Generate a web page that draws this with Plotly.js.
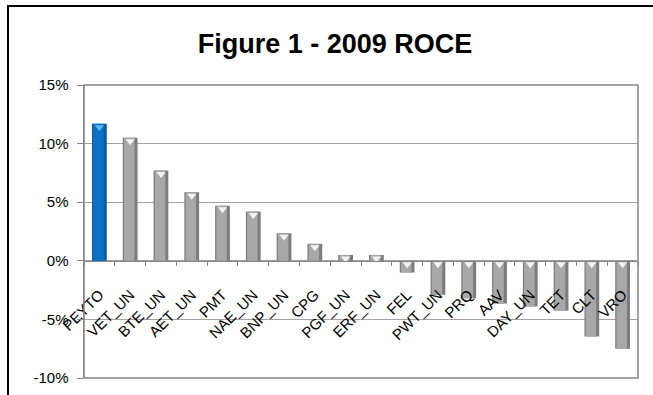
<!DOCTYPE html>
<html>
<head>
<meta charset="utf-8">
<script src="https://cdn.plot.ly/plotly-3.0.1.min.js"></script>
<style>html,body{margin:0;padding:0;background:#fff;}#chart{width:653px;height:395px;}</style>
</head>
<body>
<div id="chart"></div>
<script>
// Data
const categories = ["PEYTO","VET_UN","BTE_UN","AET_UN","PMT","NAE_UN","BNP_UN","CPG","PGF_UN","ERF_UN","FEL","PWT_UN","PRQ","AAV","DAY_UN","TET","CLT","VRO"];
const roce = [11.7, 10.5, 7.7, 5.85, 4.7, 4.2, 2.35, 1.45, 0.5, 0.5, -1.0, -2.9, -3.2, -3.65, -3.9, -4.25, -6.45, -7.5];
const yTickVals = [-10, -5, 0, 5, 10, 15];
const yTickText = ["-10%", "-5%", "0%", "5%", "10%", "15%"];
const highlight = "PEYTO";

const isHi = categories.map(c => c === highlight);
const edgeCol = isHi.map(h => h ? "#0a5c9f" : "#7d7d7d");
const bodyCol = isHi.map(h => h ? "#0b71c4" : "#a8a8a8");
const triCol  = isHi.map(h => h ? "#5fb6f2" : "#f4f4f4");

const traces = [
  {type:"bar", x:categories, y:roce, width:0.48, offset:-0.24,
   marker:{color:edgeCol, line:{width:0}}, hoverinfo:"skip", showlegend:false},
  {type:"bar", x:categories, y:roce, width:0.34, offset:-0.2,
   marker:{color:bodyCol, line:{width:0}}, hoverinfo:"skip", showlegend:false},
  {type:"scatter", mode:"markers", x:categories, y:roce.map(v => Math.max(v,0) - 0.3),
   marker:{symbol:"triangle-down", size:8, color:triCol, line:{width:0}},
   hoverinfo:"skip", showlegend:false}
];

const L=84, R=638, T=85, B=378;
const W=653, H=395;
const px2x = p => (p - L)/(R - L);
const py2y = p => (B - p)/(B - T);

const layout = {
  width:W, height:H,
  margin:{l:L, r:W-R, t:T, b:H-B, pad:0},
  paper_bgcolor:"#ffffff", plot_bgcolor:"#ffffff",
  barmode:"overlay",
  font:{family:"Liberation Sans, Arial, sans-serif", size:14, color:"#000"},
  title:{text:"<b>Figure 1 - 2009 ROCE</b>", xref:"container", yref:"container",
         x:335/W, xanchor:"center", y:1-44/H, yanchor:"middle",
         font:{family:"Liberation Sans, Arial, sans-serif", size:27, color:"#000"}},
  xaxis:{type:"category", range:[-0.5, categories.length-0.5], anchor:"free", position:0.4,
         showline:true, linecolor:"#868686", linewidth:1.5,
         ticks:"outside", tickson:"boundaries", ticklen:4, tickcolor:"#868686",
         tickangle:-45, ticklabelstandoff:18, showgrid:false, zeroline:false,
         tickfont:{family:"Liberation Sans, Arial, sans-serif", size:15, color:"#000"}},
  yaxis:{range:[-10,15], tickvals:yTickVals, ticktext:yTickText,
         showgrid:true, gridcolor:"#a3a3a3", gridwidth:1, zeroline:false,
         showline:true, linecolor:"#868686", linewidth:1.5,
         ticks:"outside", ticklen:6, tickcolor:"#868686", ticklabelstandoff:5,
         tickfont:{family:"Liberation Sans, Arial, sans-serif", size:15, color:"#000"}},
  shapes:[
    {type:"rect", xref:"paper", yref:"paper", x0:0, x1:1, y0:0, y1:1,
     line:{color:"#868686", width:1.5}, fillcolor:"rgba(0,0,0,0)", layer:"above"},
    {type:"rect", xref:"paper", yref:"paper", x0:px2x(8), x1:px2x(670), y0:py2y(410), y1:py2y(6),
     line:{color:"#000", width:2}, fillcolor:"rgba(0,0,0,0)"}
  ]
};

Plotly.newPlot("chart", traces, layout, {displayModeBar:false, staticPlot:true});
</script>
</body>
</html>
